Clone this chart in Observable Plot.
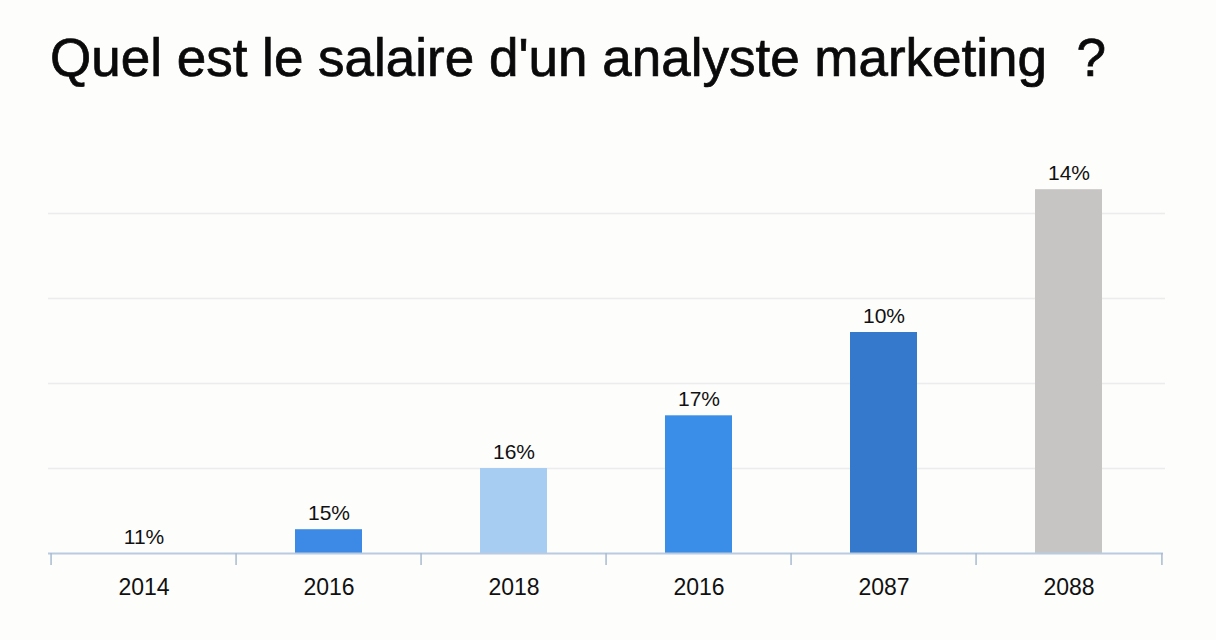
<!DOCTYPE html>
<html>
<head>
<meta charset="utf-8">
<script src="https://cdn.jsdelivr.net/npm/d3@7"></script>
<script src="https://cdn.jsdelivr.net/npm/@observablehq/plot@0.6"></script>
<style>
  html, body { margin: 0; padding: 0; background: #fdfdfc; }
  #title {
    font-family: "Liberation Sans", Arial, sans-serif;
    font-size: 53px;
    line-height: 53px;
    height: 89px;
    padding: 31px 0 0 50px;
    color: #0a0a0a;
    white-space: pre;
    -webkit-text-stroke: 0.7px #0a0a0a;
  }
  svg { display: block; background: transparent; }
</style>
</head>
<body>
<div id="title">Quel est le salaire d'un analyste marketing  ?</div>
<div id="chart"></div>
<script>
// ---- data ----
const years = ["2014", "2016", "2018", "2016", "2087", "2088"];
const values = [0, 0.28, 1.0, 1.62, 2.6, 4.28];
const valueLabels = ["11%", "15%", "16%", "17%", "10%", "14%"];
const gridValues = [1, 2, 3, 4];

// ---- styling ----
const palette = ["#3d8ae6", "#3d8ae6", "#a8cdf2", "#3a8ee8", "#3479cc", "#c6c5c3"];
const W = 1216, H = 520, mL = 48, mR = 53, mT = 8, mB = 87;
const keys = years.map((_, i) => i);
const step = (W - mL - mR) / keys.length;
const data = keys.map(i => ({key: i, year: years[i], value: values[i], label: valueLabels[i]}));

const chart = Plot.plot({
  width: W,
  height: H,
  marginLeft: mL,
  marginRight: mR,
  marginTop: mT,
  marginBottom: mB,
  style: {fontFamily: "'Liberation Sans', Arial, sans-serif", background: "transparent", color: "#111"},
  x: {type: "band", domain: keys, paddingInner: 0.64, paddingOuter: 0.32, axis: null, label: null},
  y: {domain: [0, 5], axis: null, label: null},
  color: {domain: keys, range: palette},
  marks: [
    Plot.ruleY(gridValues, {stroke: "#ececec", strokeWidth: 1.5, insetRight: -2}),
    Plot.barY(data, {x: "key", y: "value", fill: "key"}),
    Plot.ruleY([0], {stroke: "#b9cbe0", strokeWidth: 2}),
    Plot.axisX({ticks: keys, tickSize: 12, tickFormat: () => "", label: null, dx: -step / 2, stroke: "#a9bbd0", strokeWidth: 1.5}),
    Plot.axisX({ticks: [keys[keys.length - 1]], tickSize: 12, tickFormat: () => "", label: null, dx: step / 2, stroke: "#a9bbd0", strokeWidth: 1.5}),
    Plot.axisX({ticks: keys, tickSize: 0, tickPadding: 25, tickFormat: i => years[i], label: null, fontSize: 23, fill: "#111"}),
    Plot.text(data, {x: "key", y: "value", text: "label", dy: -10, lineAnchor: "bottom", fontSize: 21, fill: "#111"})
  ]
});
document.getElementById("chart").appendChild(chart);
</script>
</body>
</html>
